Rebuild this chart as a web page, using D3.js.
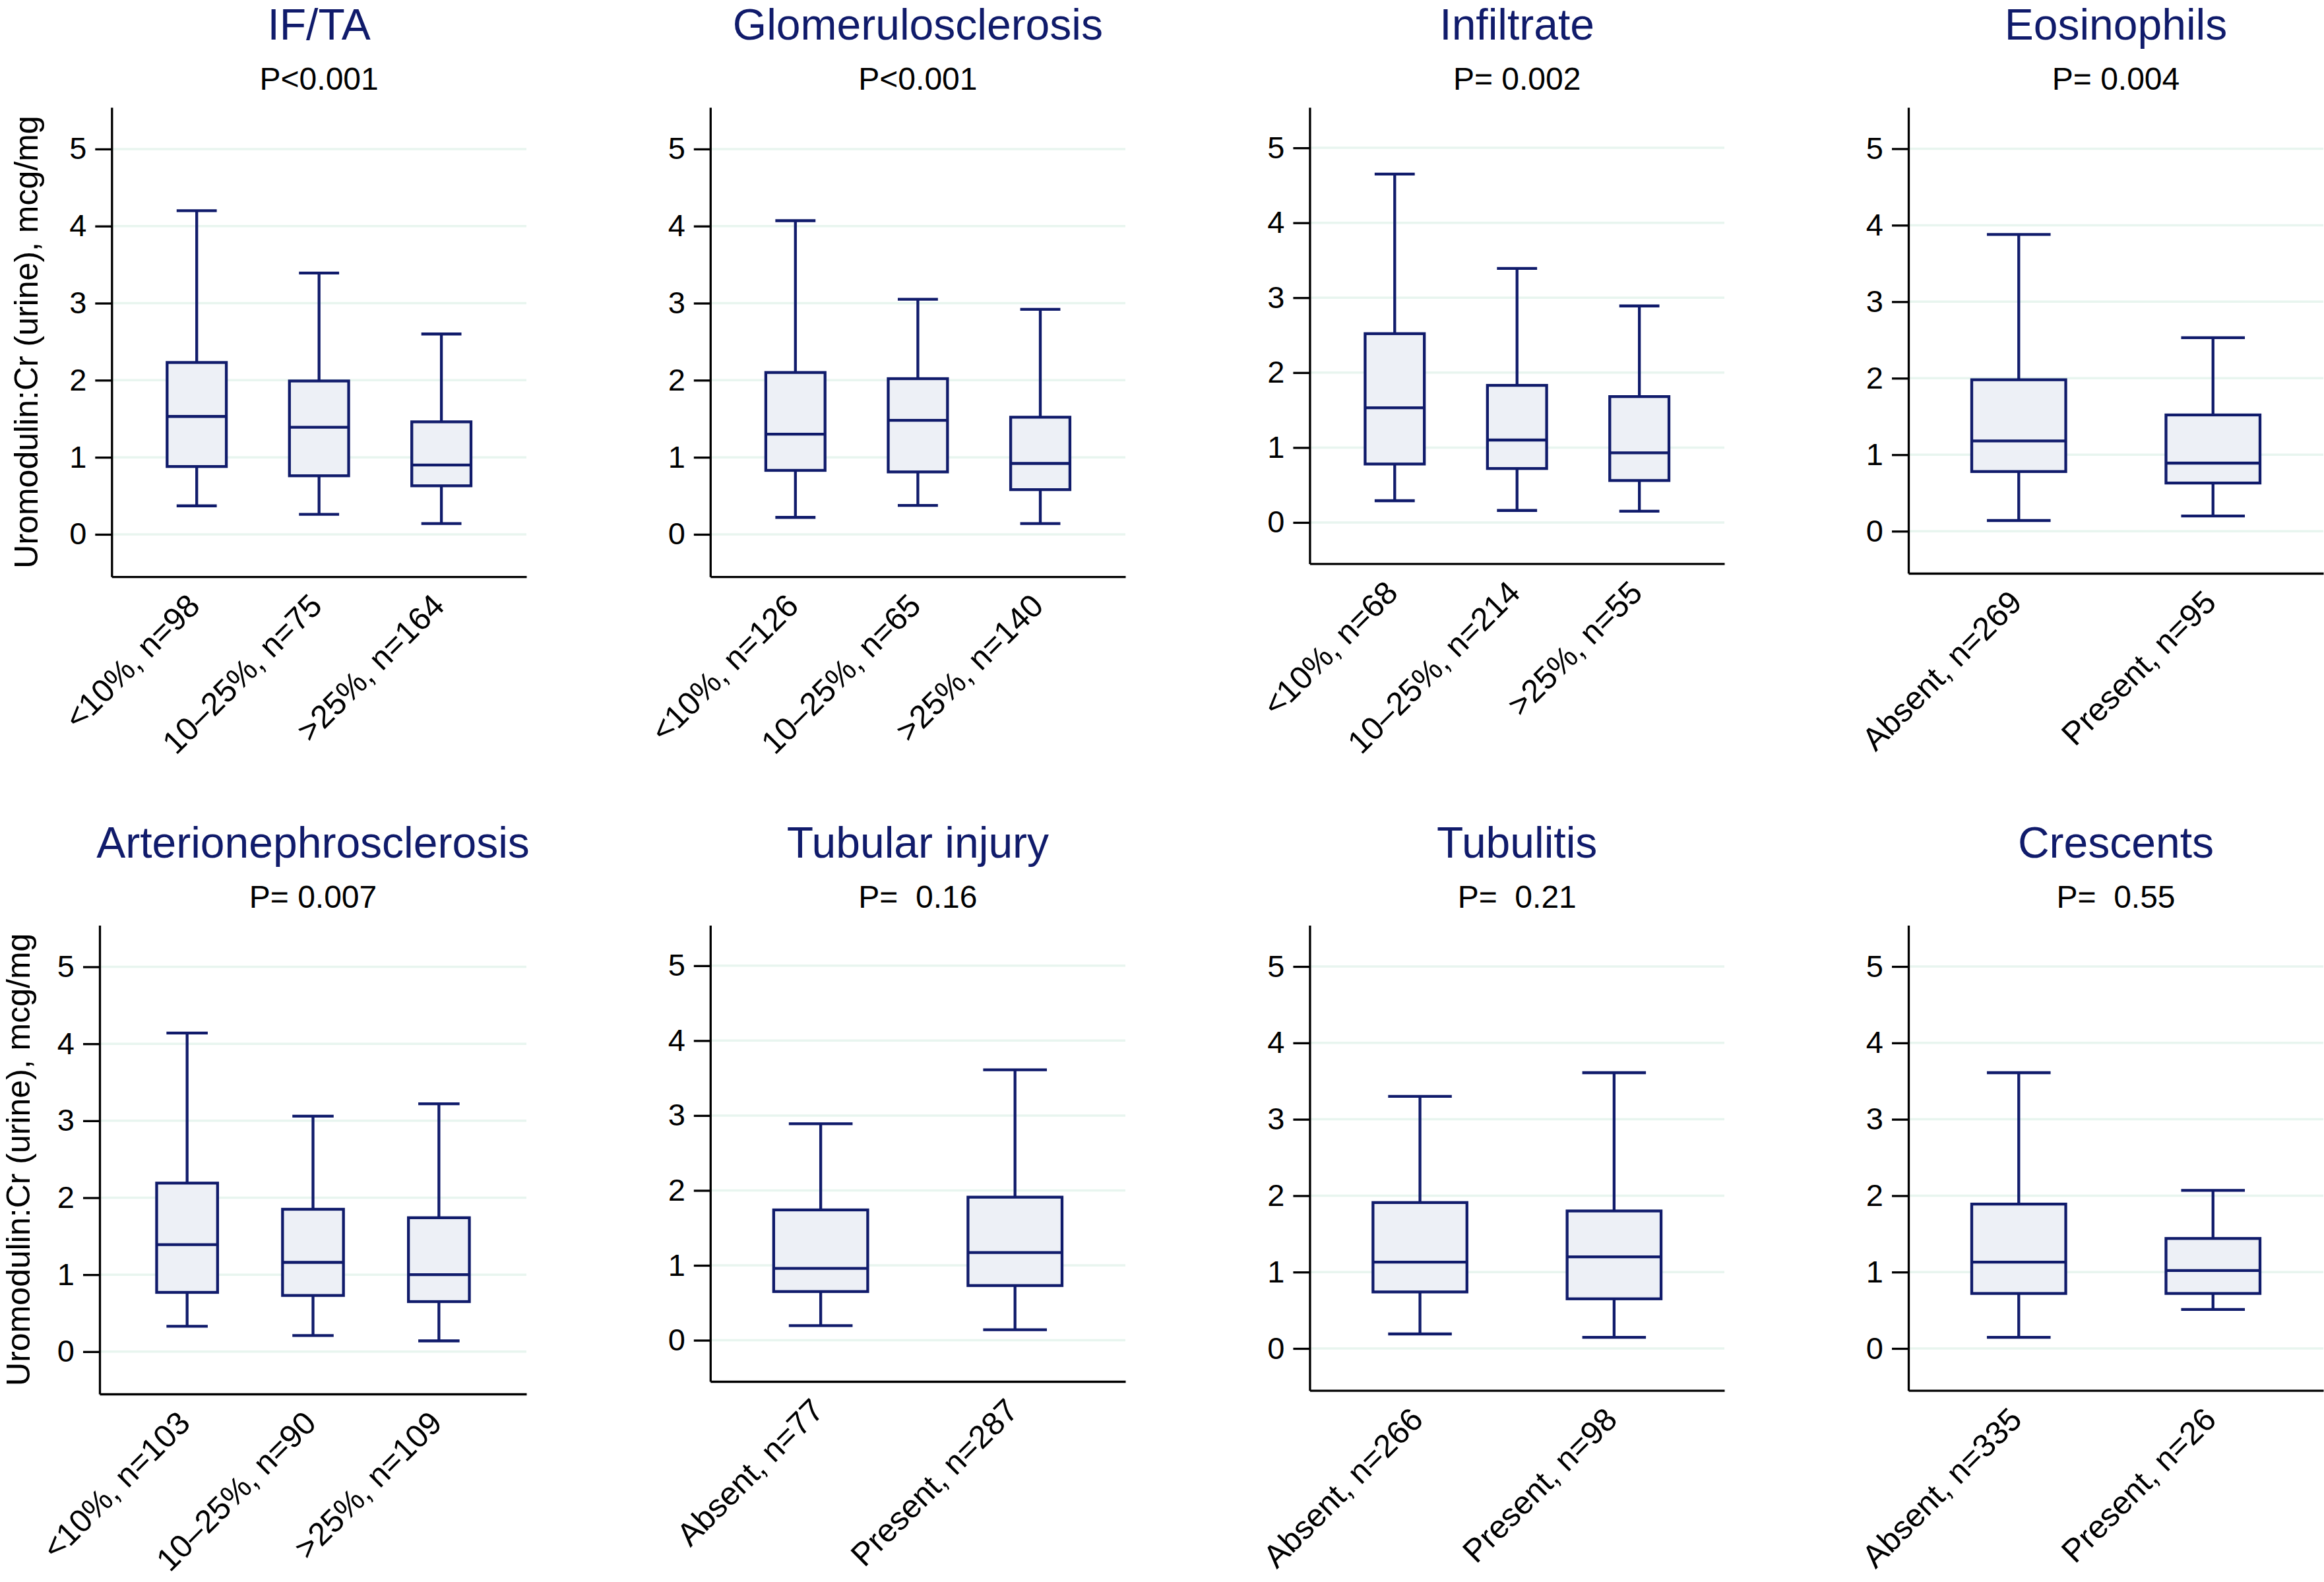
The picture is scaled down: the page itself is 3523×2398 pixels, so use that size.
<!DOCTYPE html>
<html>
<head>
<meta charset="utf-8">
<script src="https://cdn.jsdelivr.net/npm/d3@7"></script>
<style>
  html, body { margin: 0; padding: 0; background: #ffffff; }
  svg { display: block; }
  text { font-family: "Liberation Sans", Arial, Helvetica, sans-serif; }
</style>
</head>
<body>
<svg id="chart" width="3523" height="2398"></svg>
<script>
// ---------------- DATA ----------------
const panelTitles = ["IF/TA", "Glomerulosclerosis", "Infiltrate", "Eosinophils",
                     "Arterionephrosclerosis", "Tubular injury", "Tubulitis", "Crescents"];
const pValueLabels = ["P<0.001", "P<0.001", "P= 0.002", "P= 0.004",
                      "P= 0.007", "P=  0.16", "P=  0.21", "P=  0.55"];
const categories = [
  ["<10%, n=98", "10\u201325%, n=75", ">25%, n=164"],
  ["<10%, n=126", "10\u201325%, n=65", ">25%, n=140"],
  ["<10%, n=68", "10\u201325%, n=214", ">25%, n=55"],
  ["Absent, n=269", "Present, n=95"],
  ["<10%, n=103", "10\u201325%, n=90", ">25%, n=109"],
  ["Absent, n=77", "Present, n=287"],
  ["Absent, n=266", "Present, n=98"],
  ["Absent, n=335", "Present, n=26"]
];
const whiskerLow = [
  [0.37, 0.26, 0.14], [0.22, 0.375, 0.14], [0.29, 0.16, 0.15], [0.14, 0.20],
  [0.33, 0.21, 0.14], [0.195, 0.14], [0.19, 0.145], [0.145, 0.51]
];
const q1 = [
  [0.88, 0.76, 0.63], [0.83, 0.81, 0.58], [0.78, 0.72, 0.56], [0.78, 0.63],
  [0.77, 0.73, 0.65], [0.65, 0.73], [0.74, 0.65], [0.72, 0.72]
];
const median = [
  [1.53, 1.39, 0.90], [1.30, 1.48, 0.92], [1.53, 1.10, 0.93], [1.18, 0.89],
  [1.39, 1.16, 1.00], [0.96, 1.17], [1.13, 1.20], [1.13, 1.02]
];
const q3 = [
  [2.23, 1.99, 1.46], [2.10, 2.02, 1.52], [2.52, 1.83, 1.68], [1.98, 1.52],
  [2.19, 1.85, 1.74], [1.74, 1.91], [1.91, 1.80], [1.89, 1.44]
];
const whiskerHigh = [
  [4.20, 3.39, 2.60], [4.07, 3.05, 2.92], [4.65, 3.39, 2.89], [3.88, 2.53],
  [4.14, 3.06, 3.22], [2.89, 3.61], [3.30, 3.61], [3.61, 2.07]
];
const yTicks = [0, 1, 2, 3, 4, 5];
const yDomain = [-0.55, 5.54];
const yAxisTitle = "Uromodulin:Cr (urine), mcg/mg";

// ---------------- LAYOUT / STYLE ----------------
const layout = [
  {left: 169.3, right: 798,  top: 162.8,  bottom: 874.2,  ytitleX: 57},
  {left: 1076.8, right: 1706, top: 162.8, bottom: 874.2},
  {left: 1985.4, right: 2614, top: 162.8, bottom: 854.4},
  {left: 2893, right: 3522,  top: 162.8,  bottom: 869},
  {left: 151, right: 798,    top: 1402.5, bottom: 2113,   ytitleX: 45},
  {left: 1076.8, right: 1706, top: 1402.5, bottom: 2094},
  {left: 1985.4, right: 2614, top: 1402.5, bottom: 2107.7},
  {left: 2893, right: 3522,  top: 1402.5, bottom: 2107.7}
];
const navy = "#101b6b";
const boxFill = "#edf0f6";
const gridColor = "#e8f5ef";
const lineW = 4.3;

const svg = d3.select("#chart");

panelTitles.forEach((title, i) => {
  const L = layout[i];
  const n = categories[i].length;
  const g = svg.append("g");

  const y = d3.scaleLinear().domain(yDomain).range([L.bottom, L.top]);
  const x = d3.scalePoint()
    .domain(categories[i])
    .range([L.left, L.right])
    .padding(n === 3 ? 0.695 : 0.568);
  const step = x.step();
  const boxHalf = step * 0.242;
  const capHalf = step * 0.164;

  // gridlines
  g.append("g").selectAll("line").data(yTicks).join("line")
    .attr("x1", L.left).attr("x2", L.right)
    .attr("y1", d => y(d)).attr("y2", d => y(d))
    .attr("stroke", gridColor).attr("stroke-width", 3.5);

  // boxes
  const boxes = g.append("g").selectAll("g").data(categories[i]).join("g");
  boxes.each(function(cat, j) {
    const b = d3.select(this);
    const cx = x(cat);
    // whiskers
    b.append("line").attr("x1", cx).attr("x2", cx)
      .attr("y1", y(q3[i][j])).attr("y2", y(whiskerHigh[i][j]))
      .attr("stroke", navy).attr("stroke-width", lineW);
    b.append("line").attr("x1", cx).attr("x2", cx)
      .attr("y1", y(q1[i][j])).attr("y2", y(whiskerLow[i][j]))
      .attr("stroke", navy).attr("stroke-width", lineW);
    // caps
    [whiskerHigh[i][j], whiskerLow[i][j]].forEach(v => {
      b.append("line").attr("x1", cx - capHalf).attr("x2", cx + capHalf)
        .attr("y1", y(v)).attr("y2", y(v))
        .attr("stroke", navy).attr("stroke-width", lineW);
    });
    // box
    b.append("rect")
      .attr("x", cx - boxHalf).attr("width", boxHalf * 2)
      .attr("y", y(q3[i][j])).attr("height", y(q1[i][j]) - y(q3[i][j]))
      .attr("fill", boxFill).attr("stroke", navy).attr("stroke-width", lineW);
    // median
    b.append("line").attr("x1", cx - boxHalf).attr("x2", cx + boxHalf)
      .attr("y1", y(median[i][j])).attr("y2", y(median[i][j]))
      .attr("stroke", navy).attr("stroke-width", lineW);
  });

  // y axis
  const yAxis = g.append("g")
    .attr("transform", `translate(${L.left},0)`)
    .call(d3.axisLeft(y).tickValues(yTicks).tickSize(25).tickSizeOuter(0).tickPadding(13)
          .tickFormat(d3.format("d")));
  yAxis.select(".domain").attr("stroke", "#000").attr("stroke-width", 3.3);
  yAxis.selectAll(".tick line").attr("stroke", "#000").attr("stroke-width", 3.3);
  yAxis.selectAll(".tick text").attr("fill", "#000").attr("font-size", 47)
    .attr("font-family", "'Liberation Sans', Arial, sans-serif");

  // x axis
  const xAxis = g.append("g")
    .attr("transform", `translate(0,${L.bottom})`)
    .call(d3.axisBottom(x).tickSize(0).tickSizeOuter(0));
  xAxis.select(".domain").attr("stroke", "#000").attr("stroke-width", 3.3);
  xAxis.selectAll(".tick text")
    .attr("fill", "#000").attr("font-size", 49)
    .attr("font-family", "'Liberation Sans', Arial, sans-serif")
    .attr("x", 0).attr("y", 0).attr("dy", 0)
    .attr("text-anchor", "end")
    .attr("transform", "translate(7,47) rotate(-45)");

  // titles
  const cxTitle = (L.left + L.right) / 2;
  g.append("text").attr("x", cxTitle).attr("y", L.top - 102.5)
    .attr("text-anchor", "middle").attr("font-size", 66).attr("fill", navy)
    .text(title);
  g.append("text").attr("x", cxTitle).attr("y", L.top - 27)
    .attr("text-anchor", "middle").attr("font-size", 48).attr("fill", "#000")
    .attr("xml:space", "preserve").style("white-space", "pre")
    .text(pValueLabels[i]);

  if (L.ytitleX !== undefined) {
    g.append("text")
      .attr("transform", `translate(${L.ytitleX},${(L.top + L.bottom) / 2}) rotate(-90)`)
      .attr("text-anchor", "middle").attr("font-size", 50).attr("fill", "#000")
      .text(yAxisTitle);
  }
});
</script>
</body>
</html>
